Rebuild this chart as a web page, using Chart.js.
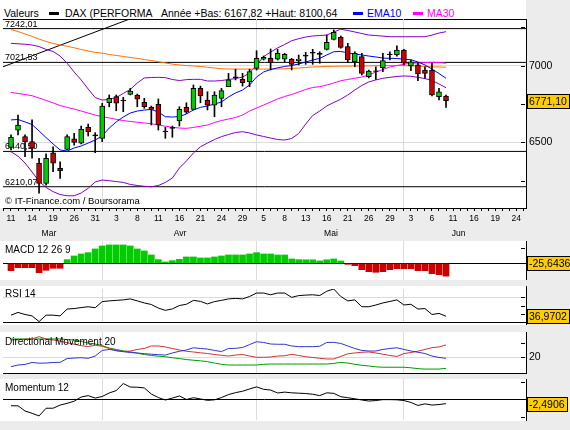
<!DOCTYPE html>
<html lang="fr">
<head>
<meta charset="utf-8">
<title>DAX</title>
<script src="https://cdn.jsdelivr.net/npm/chart.js@4.4.1/dist/chart.umd.min.js"></script>
<style>
  html, body { margin: 0; padding: 0; background: #ececec; }
  #wrap { position: relative; width: 570px; height: 430px; overflow: hidden; background: #ececec;
          font-family: "Liberation Sans", Arial, sans-serif; color: #000; }
  .bg { position: absolute; left: 0; width: 526px; background: #fff; }
  .bd { border-right: 1px solid #000; }
  canvas { position: absolute; left: 0; }
  .txt { position: absolute; white-space: nowrap; line-height: 12px; font-size: 10px; z-index: 5; }
  .leg { font-size: 10.5px; top: 7px; }
  .key { position: absolute; height: 3px; width: 10px; top: 12px; z-index: 5; }
</style>
</head>
<body>
<div id="wrap">
  <div class="bg" style="top:0;height:208px"></div>
  <div class="bg bd" style="top:241px;height:39px"></div>
  <div class="bg bd" style="top:286px;height:39px"></div>
  <div class="bg bd" style="top:332px;height:42px"></div>
  <div class="bg bd" style="top:379px;height:42px"></div>
  <div style="position:absolute;left:3px;top:19px;width:523px;height:1px;background:#000"></div>

  <canvas id="cMain" width="570" height="222" style="top:19px"></canvas>
  <canvas id="cMacd" width="570" height="39" style="top:241px"></canvas>
  <canvas id="cRsi" width="570" height="39" style="top:286px"></canvas>
  <canvas id="cDmi" width="570" height="42" style="top:332px"></canvas>
  <canvas id="cMom" width="570" height="41" style="top:379px"></canvas>

  <!-- legende -->
  <div class="txt leg" style="left:4px">Valeurs</div>
  <div class="key" style="left:49px;background:#000"></div>
  <div class="txt leg" style="left:65px">DAX (PERFORMA</div>
  <div class="txt leg" style="left:161px">Année +Bas: 6167,82 +Haut: 8100,64</div>
  <div class="key" style="left:353px;background:#0000ff"></div>
  <div class="txt leg" style="left:367px;color:#0000ff">EMA10</div>
  <div class="key" style="left:413px;background:#ff00ff"></div>
  <div class="txt leg" style="left:427px;color:#ff00ff">MA30</div>

  <div class="txt" style="left:5px;top:195px;font-size:9.5px">© IT-Finance.com / Boursorama</div>
  <div class="txt" style="left:5px;top:244px">MACD 12 26 9</div>
  <div class="txt" style="left:5px;top:288px">RSI 14</div>
  <div class="txt" style="left:5px;top:336px">Directional Movement 20</div>
  <div class="txt" style="left:5px;top:382px">Momentum 12</div>
</div>

<script>
// ============================================
// DONNEES (11 mars -> 10 juin, une valeur par séance)
// ============================================
const dayLabels = ['11','14','19','26','31','3','8','11','16','21','24','29','5','8','13','16','21','26','29','3','6','11','16','19','24'];
const monthLabels = ['Mar', 'Avr', 'Mai', 'Jun'];
const monthPos = [5.4, 24.1, 45.6, 63.8];
const monthStarts = [13, 35, 56];

const openP = [6467,6580,6537,6504,6363,6232,6432,6330,6454,6522, 6494,6598,6548,6526,6758,6798,6776,6813,6809,6761,
    6730,6748,6574,6598,6639,6728,6715,6852,6776,6743, 6787,6863,6928,6911,6896,6983,7042,7048,7042,7042,
    7042,7031,7070,7087,7081,7107,7172,7185,7124,7026, 7059,6928,6967,6987,7076,7070,7102,6998,7005,6972,
    6972,6798,6802];
const highP = [6548,6678,6548,6646,6396,6424,6471,6373,6548,6559, 6606,6619,6563,6755,6809,6809,6794,6852,6815,6787,
    6737,6783,6598,6606,6732,6758,6874,6867,6830,6830, 6852,6950,6977,6950,6977,7098,7063,7109,7107,7081,
    7048,7070,7087,7107,7091,7200,7233,7194,7146,7091, 7081,6972,6993,7081,7091,7129,7107,7037,7020,6993,
    7016,6852,6809];
const lowP = [6450,6548,6406,6396,6168,6221,6308,6265,6450,6482, 6489,6541,6432,6504,6732,6706,6700,6809,6732,6722,
    6613,6580,6526,6533,6606,6689,6711,6758,6711,6667, 6732,6863,6907,6867,6863,6972,7037,6972,7037,7026,
    6972,7005,7009,7009,7016,7102,7168,7114,7020,6993, 6939,6920,6911,6961,7037,7063,7005,6967,6902,6918,
    6802,6776,6728];
const closeP = [6533,6613,6504,6461,6232,6396,6363,6315,6537,6500, 6587,6569,6541,6737,6787,6755,6770,6835,6781,6732,
    6715,6613,6567,6591,6715,6696,6852,6802,6743,6809, 6837,6907,6922,6889,6961,7048,7055,7020,7081,7074,
    7009,7044,7063,7081,7074,7153,7218,7120,7037,7081, 6950,6965,6963,7033,7072,7102,7016,7026,6946,6950,
    6809,6830,6771.1];

const ema10 = [6646,6649,6633,6616,6574,6531,6489,6450,6443,6463, 6476,6495,6515,6541,6593,6633,6665,6691,6704,6711,
    6714,6698,6667,6665,6668,6685,6711,6728,6737,6750, 6763,6796,6822,6841,6874,6926,6959,6975,6986,6995,
    7001,7011,7024,7037,7048,7070,7091,7093,7083,7076, 7070,7063,7057,7050,7048,7047,7042,7039,7024,7005,
    6978,6949,6918];
const ma30 = [6826,6819,6812,6804,6789,6773,6757,6740,6728,6717, 6704,6691,6678,6667,6659,6650,6642,6636,6631,6626,
    6621,6613,6605,6598,6593,6591,6597,6605,6613,6629, 6642,6652,6662,6678,6704,6724,6743,6763,6783,6799,
    6812,6828,6845,6858,6863,6874,6887,6902,6910,6918, 6926,6939,6959,6975,6992,7001,7009,7016,7018,7020,
    7022,7021,7016];
const ma100 = [7236,7223,7207,7191,7174,7158,7145,7135,7127,7117, 7106,7096,7087,7082,7073,7067,7060,7054,7048,7040,
    7034,7026,7018,7010,7005,7001,6998,6995,6990,6985, 6980,6978,6978,6978,6978,6978,6978,6978,6978,6980,
    6982,6985,6988,6992,6993,6995,6996,6997,6997,6998, 6998,6999,7000,7001,7001,7001,7000,6999,6997,6995,
    6993,6992,6990];
const bollUp = [7146,7143,7140,7135,7125,7106,7093,7063,7016,6959, 6907,6848,6792,6776,6779,6792,6819,6845,6887,6920,
    6923,6924,6922,6910,6903,6909,6911,6911,6900,6900, 6903,6910,6916,6926,6952,7005,7059,7089,7116,7138,
    7163,7176,7187,7194,7197,7200,7220,7238,7230,7220, 7210,7200,7197,7193,7189,7189,7189,7189,7189,7189,
    7200,7213,7222];
const bollDown = [6439,6409,6365,6306,6247,6205,6178,6159,6151,6151, 6169,6200,6241,6254,6249,6244,6238,6225,6218,6213,
    6210,6218,6238,6267,6332,6378,6430,6471,6495,6518, 6537,6551,6564,6569,6561,6548,6538,6528,6518,6515,
    6525,6557,6619,6675,6704,6737,6760,6781,6809,6841, 6871,6894,6907,6918,6924,6930,6933,6931,6924,6916,
    6903,6881,6856];
const trendX = [-1.14, 20];
const trendY = [6993, 7358];
const supports = [7242.01, 7021.53, 6440.50, 6210.07];

const macdHist = [-14.7,-8.7,-8.7,-8.7,-18.7,-14,-10,-10,7.3,14.7, 18.7,21.3,28.7,34.7,36.7,36.7,36.7,34.7,28.7,24.7,
    16.7,7.3,2.7,5.3,8,12.7,12.7,10.7,10.7,12.7, 14.7,16.7,16.7,16.7,18.7,21.3,18.7,18.7,16.7,16.7,
    8.7,7.3,7,7,4.7,7,8.7,4.7,-2,-4.7, -12.7,-16.7,-18,-16.7,-12.7,-10.7,-10.7,-10.7,-14.7,-14.7,
    -20.7,-22.7,-25.64];
const rsi14 = [38.3,41.6,39.1,37.4,30.5,38.3,38.3,37.4,45.7,46.3, 47.5,48.5,47.3,54.7,55.6,56.2,56.8,58,55.6,53.1,
    51.2,46.9,44.1,45.9,50,51.5,56.2,55,51.9,54.7, 56.2,58,58.6,58,60.9,65.1,65.1,63,65.1,65.1,
    59.9,62,62.6,63,62.1,67.3,70,60.9,55.6,56.8, 48.5,48.5,50.6,53.1,54.9,56.8,50.6,51.5,45.7,46.3,
    39.1,40.4,36.97];
const diPlus = [13.3,14.5,14.9,16.3,15.8,15.9,16.3,16.4,19.1,19.5, 19.7,19.3,20.9,24.9,25.6,24.9,24,23.4,23.1,22.6,
    22.2,21.9,21.6,23.1,24.3,25.2,26.8,26.3,25.9,24.9, 24.1,26.3,26.4,27,29.1,31.1,30.6,29.5,29.3,29.3,
    28.1,27.6,27.6,27.6,27.9,30.6,30.7,29.9,28.1,26.3, 24.9,24.5,24.5,25.6,26.3,26.8,25.6,24.5,23.6,22.7,
    20.9,19.9,19.3];
const diMinus = [32.4,32.6,32.9,33.1,34.7,33.1,32.4,31.6,30.4,29.3, 28.3,27.7,28.6,27.9,26.3,24.6,24.1,24.5,25.6,26.3,
    28.1,28.1,27.4,26.3,25.2,24.3,23.8,23.2,22.7,22, 21.4,20.9,21.6,22,20.9,20,20,20.2,20.9,21.1,
    22.1,21.3,20.4,19.9,19.3,18.8,18.8,20.6,22.5,23.1, 23.6,23.8,23.1,22.2,21.3,20.6,22.7,23.4,24.4,25.6,
    26.9,27.4,28.8];
const adx = [33.1,33.1,33.1,33.1,33.1,33.1,33.1,33.1,32.7,32.4, 31.3,30.2,29.5,28.4,26.6,25.6,24.6,23.9,22.9,22,
    21.3,20.8,20.4,19.7,19.1,18.4,17.9,17.5,16.9,15.9, 15,14.5,14.5,14.5,14.5,14.5,15,15.2,15.2,15.2,
    15.2,15.2,15.2,15.2,15.2,15.2,15.6,16.4,15.9,15, 14.3,13.8,13.2,12.9,12.9,12.9,12.9,12.5,11.9,11.6,
    11.6,11.6,12.1];
const momentum12 = [-3.7,-3.7,-6.7,-8,-9.5,-5.1,-5.1,-3.3,-2.3,-1.1, 1.3,2.1,0.7,1.6,3.6,5,9,7,6.9,6.5,
    3,1,-0.4,0.7,1.9,-0.1,0.9,0.2,-0.6,-0.3, 1,2.7,3.8,4.6,5.9,7.1,5.7,5.3,3.6,4.1,
    3.7,3.5,3.3,2.9,2.1,3.7,3.4,1.5,0.9,0.3, -0.4,-1,-0.7,-0.2,-0.2,-0.3,-0.7,-1.8,-3.5,-2.6,
    -3.3,-3,-2.49];

const X_MIN = -1.14;
const X_MAX = 73.4;
const FONT = '"Liberation Sans", Arial, sans-serif';
Chart.defaults.font.family = FONT;
Chart.defaults.color = '#000';

function pts(arr) { return arr.map((v, i) => ({ x: i, y: v })); }
function fr(v) { return v.toFixed(2).replace('.', ','); }

// ============================================
// PLUGINS
// ============================================
const levelLabels = {
    id: 'levelLabels',
    beforeDatasetsDraw(chart, args, o) {
        if (!o.values) return;
        const { ctx, chartArea, scales } = chart;
        ctx.save();
        ctx.font = '9px ' + FONT;
        ctx.fillStyle = '#000';
        ctx.textBaseline = 'alphabetic';
        o.values.forEach(v => ctx.fillText(fr(v), chartArea.left + 2, scales.y.getPixelForValue(v) - 2));
        ctx.restore();
    }
};

const innerTicks = {
    id: 'innerTicks',
    afterDatasetsDraw(chart, args, o) {
        if (!o.values) return;
        const { ctx, chartArea, scales } = chart;
        ctx.save();
        ctx.strokeStyle = '#000';
        ctx.lineWidth = 1;
        o.values.forEach(v => {
            const y = Math.round(scales.y.getPixelForValue(v)) + 0.5;
            ctx.beginPath();
            ctx.moveTo(chartArea.right - 5, y);
            ctx.lineTo(chartArea.right - 1, y);
            ctx.stroke();
        });
        ctx.restore();
    }
};

const valueBox = {
    id: 'valueBox',
    afterDraw(chart, args, o) {
        if (o.text === undefined) return;
        const { ctx, chartArea, scales } = chart;
        const y = Math.round(scales.y.getPixelForValue(o.at));
        ctx.save();
        ctx.font = '10.5px ' + FONT;
        const w = Math.ceil(ctx.measureText(o.text).width) + 5;
        const x = chartArea.right + 1;
        ctx.fillStyle = '#ffcc00';
        ctx.fillRect(x, y - 7, w, 15);
        ctx.strokeStyle = '#000';
        ctx.lineWidth = 1;
        ctx.strokeRect(x + 0.5, y - 6.5, w - 1, 14);
        ctx.fillStyle = '#000';
        ctx.textBaseline = 'middle';
        ctx.fillText(o.text, x + 2, y + 1);
        ctx.restore();
    }
};

// ============================================
// AXES
// ============================================
function monthGrid(c) {
    return monthStarts.includes(c.tick.value) ? '#dcdcdc' : 'rgba(0,0,0,0)';
}

function noPad(s) {
    s.paddingLeft = 0; s.paddingRight = 0; s.paddingTop = 0; s.paddingBottom = 0;
}

function xDays(show) {
    return {
        type: 'linear', min: X_MIN, max: X_MAX, bounds: 'data', offset: false, weight: 0,
        afterBuildTicks: s => { const t = []; for (let i = -1; i <= 73; i++) t.push({ value: i }); s.ticks = t; },
        afterFit: s => { s.height = show ? 17 : 0; noPad(s); },
        grid: { color: monthGrid, tickColor: '#000', tickLength: 3, drawTicks: show, offset: false },
        border: { display: true, color: '#000' },
        ticks: {
            display: show, autoSkip: false, maxRotation: 0, minRotation: 0, padding: 3,
            font: { size: 8.5 },
            callback: v => (v >= 0 && v % 3 === 0) ? dayLabels[v / 3] : ''
        }
    };
}

function xMonths() {
    return {
        type: 'linear', position: 'bottom', min: X_MIN, max: X_MAX, bounds: 'data', offset: false, weight: 1,
        afterBuildTicks: s => { s.ticks = monthPos.map(v => ({ value: v })); },
        afterFit: s => { s.height = 16; noPad(s); },
        grid: { display: false, drawTicks: false },
        border: { display: false },
        ticks: { autoSkip: false, maxRotation: 0, minRotation: 0, padding: 4, font: { size: 8.5 },
            callback: (v, i) => monthLabels[i] }
    };
}

function yRight(min, max, tickVals, gridColor, labels, border) {
    return {
        type: 'linear', position: 'right', min, max, bounds: 'data',
        afterBuildTicks: s => { s.ticks = tickVals.map(v => ({ value: v })); },
        afterFit: s => { s.width = 44; noPad(s); },
        grid: { drawTicks: false, color: c => gridColor(c.tick.value) },
        border: { display: border, color: '#000' },
        ticks: { padding: 3, font: { size: 10.5 }, callback: v => labels.includes(v) ? String(v) : '' }
    };
}

function baseOptions(scales, padding, extra) {
    return {
        responsive: false, animation: false, devicePixelRatio: 1, events: [],
        layout: { padding, autoPadding: false },
        plugins: Object.assign({ legend: { display: false }, tooltip: { enabled: false } }, extra),
        scales
    };
}

function lineDs(data, color, order) {
    return { type: 'line', data, borderColor: color, borderWidth: 1, pointRadius: 0,
        fill: false, tension: 0, order };
}

function candleColor(i) {
    if (Math.abs(closeP[i] - openP[i]) <= 8) return '#000';
    return closeP[i] > openP[i] ? '#00cc00' : '#cc0000';
}

const PLUGS = [levelLabels, innerTicks, valueBox];

// ============================================
// GRAPHIQUE PRINCIPAL
// ============================================
new Chart(document.getElementById('cMain'), {
    type: 'line',
    data: { datasets: [
        ...supports.map(v => lineDs([{ x: X_MIN, y: v }, { x: X_MAX, y: v }], '#000', 10)),
        lineDs(trendX.map((x, k) => ({ x, y: trendY[k] })), '#000', 9),
        lineDs(pts(bollUp), '#8000c8', 8),
        lineDs(pts(bollDown), '#8000c8', 8),
        lineDs(pts(ma100), '#ff7000', 7),
        lineDs(pts(ma30), '#ff00ff', 6),
        lineDs(pts(ema10), '#0000ff', 5),
        { type: 'bar', data: lowP.map((v, i) => ({ x: i, y: [v, highP[i]] })), backgroundColor: '#000',
          barThickness: 1, grouped: false, order: 2 },
        { type: 'bar', data: openP.map((v, i) => ({ x: i, y: [v, closeP[i]] })),
          backgroundColor: openP.map((v, i) => candleColor(i)), borderColor: '#000', borderWidth: 1,
          borderSkipped: false, barThickness: 5, grouped: false, order: 1 }
    ]},
    options: baseOptions(
        { x: xDays(true), x2: xMonths(), y: yRight(6071.2, 7304.8, [6500, 7000], () => '#dcdcdc', [6500, 7000], true) },
        { left: 3, top: 0, right: 0, bottom: 0 },
        { levelLabels: { values: supports }, innerTicks: { values: [6250, 6500, 6750, 7000, 7250] },
          valueBox: { at: closeP[closeP.length - 1], text: '6771,10' } }
    ),
    plugins: PLUGS
});

// ============================================
// MACD
// ============================================
new Chart(document.getElementById('cMacd'), {
    type: 'line',
    data: { datasets: [
        { type: 'bar', data: pts(macdHist), backgroundColor: macdHist.map(v => v >= 0 ? '#00cc00' : '#cc0000'),
          barThickness: 6, grouped: false }
    ]},
    options: baseOptions(
        { x: xDays(false), y: yRight(-33.4, 44.6, [0], () => '#000', [], false) },
        { left: 3, top: 0, right: 0, bottom: 0 },
        { innerTicks: { values: [30] }, valueBox: { at: 0, text: '-25,6436' } }
    ),
    plugins: PLUGS
});

// ============================================
// RSI
// ============================================
new Chart(document.getElementById('cRsi'), {
    type: 'line',
    data: { datasets: [ lineDs(pts(rsi14), '#000', 0) ] },
    options: baseOptions(
        { x: xDays(false), y: yRight(30, 70, [30, 40, 60, 70], v => (v === 30 || v === 70) ? '#000' : '#dcdcdc', [], false) },
        { left: 3, top: 3, right: 0, bottom: 3 },
        { innerTicks: { values: [40, 50, 60] }, valueBox: { at: rsi14[rsi14.length - 1], text: '36,9702' } }
    ),
    plugins: PLUGS
});

// ============================================
// DIRECTIONAL MOVEMENT
// ============================================
new Chart(document.getElementById('cDmi'), {
    type: 'line',
    data: { datasets: [
        lineDs(pts(adx), '#009900', 2),
        lineDs(pts(diMinus), '#cc3333', 1),
        lineDs(pts(diPlus), '#3333cc', 0)
    ]},
    options: baseOptions(
        { x: xDays(false), y: yRight(8.79, 38.07, [20], () => '#dcdcdc', [20], false) },
        { left: 3, top: 0, right: 0, bottom: 1 },
        { innerTicks: { values: [20, 30] } }
    ),
    plugins: PLUGS
});

// ============================================
// MOMENTUM
// ============================================
new Chart(document.getElementById('cMom'), {
    type: 'line',
    data: { datasets: [ lineDs(pts(momentum12), '#000', 0) ] },
    options: baseOptions(
        { x: xDays(false), y: yRight(-11.83, 11.6, [0], () => '#000', [], false) },
        { left: 3, top: 0, right: 0, bottom: 0 },
        { innerTicks: { values: [-10, 10] }, valueBox: { at: momentum12[momentum12.length - 1], text: '-2,4906' } }
    ),
    plugins: PLUGS
});
</script>
</body>
</html>
